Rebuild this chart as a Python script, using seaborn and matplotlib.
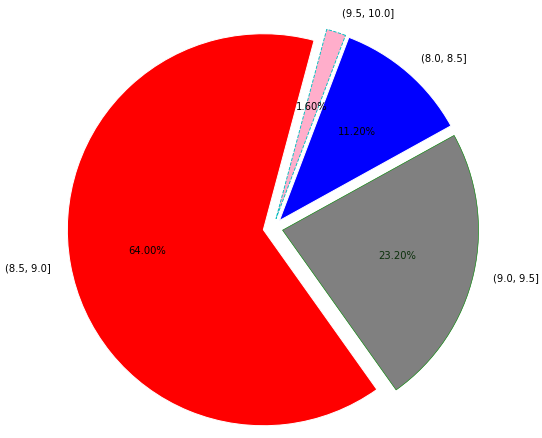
import matplotlib
matplotlib.use("Agg")
import matplotlib.pyplot as plt
import seaborn as sns

sns.set_style("white")
plt.rcParams['font.family'] = ['DejaVu Sans']
plt.rcParams['text.color'] = 'black'

labels = ['(8.5, 9.0]', '(9.0, 9.5]', '(8.0, 8.5]', '(9.5, 10.0]']
values = [64.0, 23.2, 11.2, 1.6]
colors = ['red', 'gray', 'blue', '#ffaecb']

fig = plt.figure(figsize=(542 / 72, 438 / 72), dpi=72)
ax = fig.add_axes([0, 0, 1, 1])
wedges, texts, autotexts = ax.pie(values, labels=labels, colors=colors,
                                  explode=[0.05] * 4, startangle=75,
                                  autopct='%.2f%%',
                                  textprops={'fontsize': 10, 'color': 'black'})
wedges[1].set_edgecolor('green')
wedges[1].set_linewidth(0.6)
wedges[3].set_edgecolor('c')
wedges[3].set_linestyle('--')
wedges[3].set_linewidth(0.9)
autotexts[1].set_color('#0b300b')
R = 196
ax.set_xlim(-273 / R, (542 - 273) / R)
ax.set_ylim(-(438 - 228) / R, 228 / R)
ax.set_aspect('auto')
ax.axis('off')
fig.savefig('out.png', dpi=72)
